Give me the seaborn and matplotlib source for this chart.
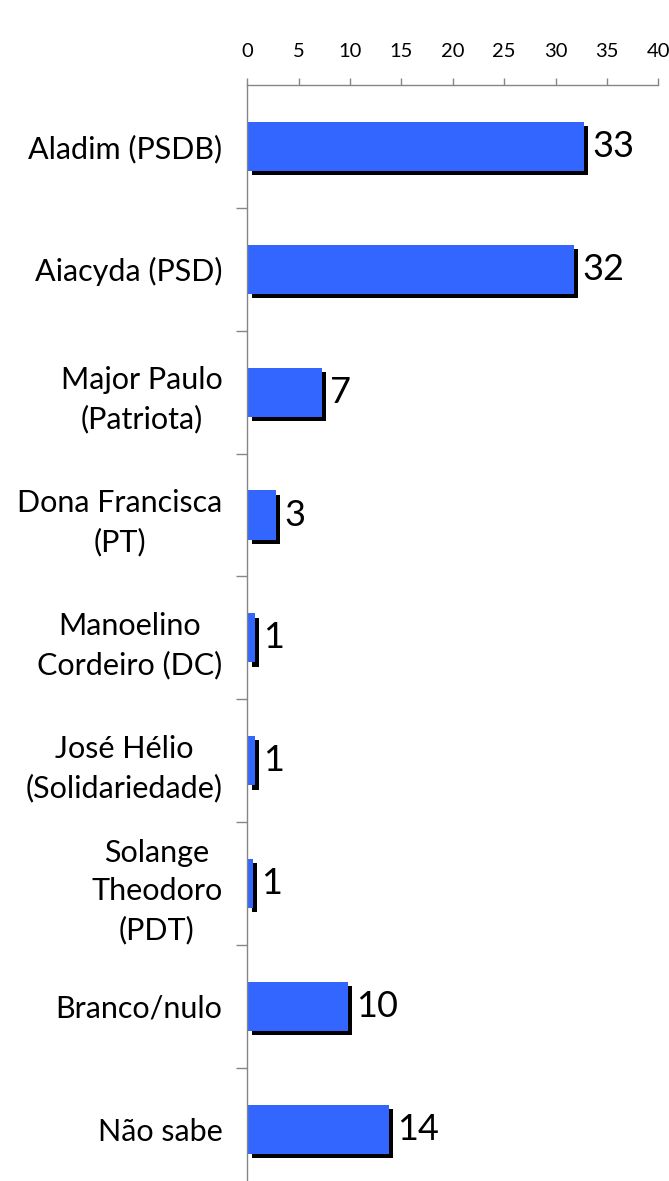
import numpy as np
import pandas as pd
import matplotlib
matplotlib.use('Agg')
import matplotlib.pyplot as plt
import matplotlib.patheffects as pe
from matplotlib.ticker import FixedLocator
import seaborn as sns

# Data
candidates = [
    'Aladim (PSDB)',
    'Aiacyda (PSD)',
    'Major Paulo\n(Patriota)',
    'Dona Francisca\n(PT)',
    'Manoelino\nCordeiro (DC)',
    'José Hélio\n(Solidariedade)',
    'Solange\nTheodoro\n(PDT)',
    'Branco/nulo',
    'Não sabe',
]
votes = [32.75, 31.8, 7.27, 2.79, 0.75, 0.75, 0.52, 9.8, 13.78]
x_ticks = [0, 5, 10, 15, 20, 25, 30, 35, 40]

BAR_COLOR = '#3366FF'
AXIS_GRAY = '#868686'

sns.set_theme(style='white')
plt.rcParams['font.family'] = ['Lato', 'DejaVu Sans']

df = pd.DataFrame({'candidate': candidates, 'votes': votes})

fig = plt.figure(figsize=(6.69, 11.81), dpi=100)
ax = fig.add_axes([0.3697, -0.0082, 0.6143, 0.9362])

sns.barplot(data=df, x='votes', y='candidate', color=BAR_COLOR, width=0.4,
            saturation=1, orient='h', linewidth=0, ax=ax)

for bar in ax.patches:
    bar.set_path_effects([
        pe.SimplePatchShadow(offset=(3.2, -3.1), shadow_rgbFace='black', alpha=1.0),
        pe.Normal(),
    ])

ax.bar_label(ax.containers[0], labels=[f'{round(v)}' for v in votes],
             padding=6, fontsize=26, color='black')

ax.set_xlim(0, 40)
ax.set_ylim(len(candidates) - 0.5, -0.5)
ax.set_xticks(x_ticks)
ax.xaxis.tick_top()
ax.tick_params(axis='x', which='major', direction='out', length=5, width=1,
               color=AXIS_GRAY, pad=13, labelsize=14.5, labelcolor='black')

# category labels without ticks, ticks drawn between categories
ax.tick_params(axis='y', which='major', length=0, pad=18, labelsize=22,
               labelcolor='black')
for lbl in ax.get_yticklabels():
    lbl.set_multialignment('center')
    lbl.set_linespacing(1.45)
ax.yaxis.set_minor_locator(FixedLocator(np.arange(0.5, len(candidates) - 1, 1)))
ax.tick_params(axis='y', which='minor', left=True, direction='out', length=8,
               width=1, color=AXIS_GRAY)

ax.set_xlabel('')
ax.set_ylabel('')
for side in ['right', 'bottom']:
    ax.spines[side].set_visible(False)
for side in ['top', 'left']:
    ax.spines[side].set_color(AXIS_GRAY)
    ax.spines[side].set_linewidth(1)

fig.savefig('out.png', dpi=100, facecolor='white')
